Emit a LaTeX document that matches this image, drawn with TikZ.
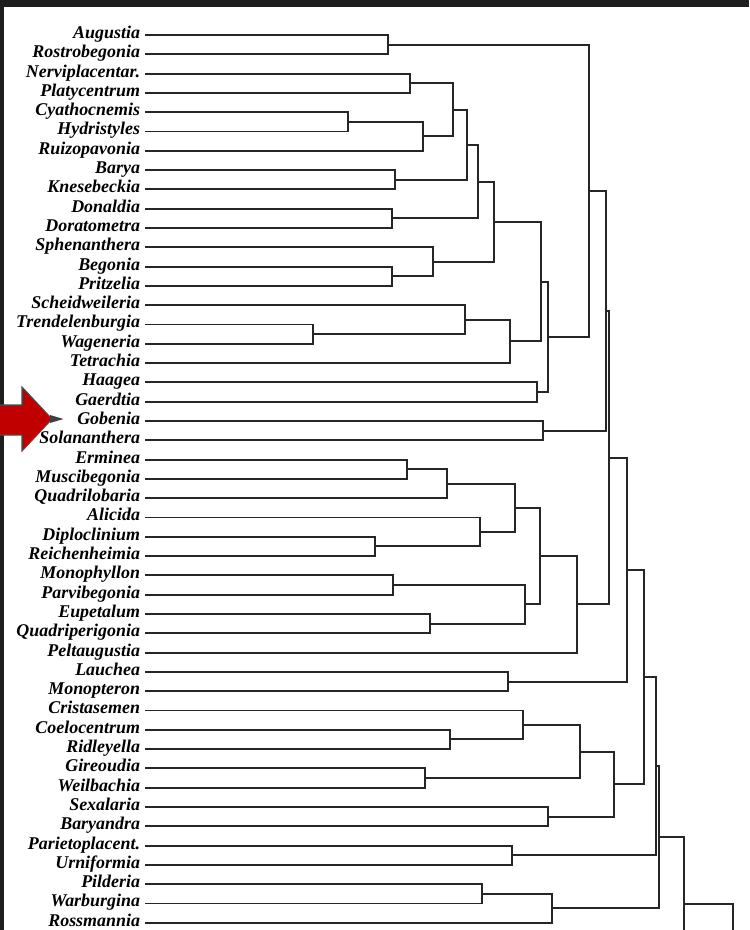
\documentclass[tikz,border=0pt]{standalone}
\usepackage{fontspec}
\setmainfont{Liberation Serif}
\usepackage{xcolor}
\definecolor{scanband}{HTML}{1E1E1E}
\definecolor{markred}{HTML}{C00000}

\begin{document}
\begin{tikzpicture}[
  taxon/.style={anchor=east, inner sep=0pt, outer xsep=0.1cm,
                text height=6.5pt, text depth=2.6pt,
                font=\fontsize{10.2}{12}\selectfont\bfseries\itshape},
  branch/.style={line width=1.1pt, black!85},
  band/.style={fill=scanband}
]
  \useasboundingbox (0,0) rectangle (14.98,-18.6);
  \clip (0,0) rectangle (14.98,-18.6);
  \fill[white] (0,0) rectangle (14.98,-18.6);
  \fill[band] (0,0) rectangle (14.98,-0.14);
  \fill[band] (0,0) rectangle (0.08,-18.6);

  % Taxa
  \node[taxon] (augustia)        at (2.90, -0.700) {Augustia};
  \node[taxon] (rostrobegonia)   at (2.90, -1.086) {Rostrobegonia};
  \node[taxon] (nerviplacentar)  at (2.90, -1.472) {Nerviplacentar.};
  \node[taxon] (platycentrum)    at (2.90, -1.858) {Platycentrum};
  \node[taxon] (cyathocnemis)    at (2.90, -2.244) {Cyathocnemis};
  \node[taxon] (hydristyles)     at (2.90, -2.630) {Hydristyles};
  \node[taxon] (ruizopavonia)    at (2.90, -3.016) {Ruizopavonia};
  \node[taxon] (barya)           at (2.90, -3.402) {Barya};
  \node[taxon] (knesebeckia)     at (2.90, -3.788) {Knesebeckia};
  \node[taxon] (donaldia)        at (2.90, -4.174) {Donaldia};
  \node[taxon] (doratometra)     at (2.90, -4.560) {Doratometra};
  \node[taxon] (sphenanthera)    at (2.90, -4.946) {Sphenanthera};
  \node[taxon] (begonia)         at (2.90, -5.332) {Begonia};
  \node[taxon] (pritzelia)       at (2.90, -5.718) {Pritzelia};
  \node[taxon] (scheidweileria)  at (2.90, -6.104) {Scheidweileria};
  \node[taxon] (trendelenburgia) at (2.90, -6.490) {Trendelenburgia};
  \node[taxon] (wageneria)       at (2.90, -6.876) {Wageneria};
  \node[taxon] (tetrachia)       at (2.90, -7.262) {Tetrachia};
  \node[taxon] (haagea)          at (2.90, -7.648) {Haagea};
  \node[taxon] (gaerdtia)        at (2.90, -8.034) {Gaerdtia};
  \node[taxon] (gobenia)         at (2.90, -8.420) {Gobenia};
  \node[taxon] (solananthera)    at (2.90, -8.806) {Solananthera};
  \node[taxon] (erminea)         at (2.90, -9.192) {Erminea};
  \node[taxon] (muscibegonia)    at (2.90, -9.578) {Muscibegonia};
  \node[taxon] (quadrilobaria)   at (2.90, -9.964) {Quadrilobaria};
  \node[taxon] (alicida)         at (2.90,-10.350) {Alicida};
  \node[taxon] (diploclinium)    at (2.90,-10.736) {Diploclinium};
  \node[taxon] (reichenheimia)   at (2.90,-11.122) {Reichenheimia};
  \node[taxon] (monophyllon)     at (2.90,-11.508) {Monophyllon};
  \node[taxon] (parvibegonia)    at (2.90,-11.894) {Parvibegonia};
  \node[taxon] (eupetalum)       at (2.90,-12.280) {Eupetalum};
  \node[taxon] (quadriperigonia) at (2.90,-12.666) {Quadriperigonia};
  \node[taxon] (peltaugustia)    at (2.90,-13.052) {Peltaugustia};
  \node[taxon] (lauchea)         at (2.90,-13.438) {Lauchea};
  \node[taxon] (monopteron)      at (2.90,-13.824) {Monopteron};
  \node[taxon] (cristasemen)     at (2.90,-14.210) {Cristasemen};
  \node[taxon] (coelocentrum)    at (2.90,-14.596) {Coelocentrum};
  \node[taxon] (ridleyella)      at (2.90,-14.982) {Ridleyella};
  \node[taxon] (gireoudia)       at (2.90,-15.368) {Gireoudia};
  \node[taxon] (weilbachia)      at (2.90,-15.754) {Weilbachia};
  \node[taxon] (sexalaria)       at (2.90,-16.140) {Sexalaria};
  \node[taxon] (baryandra)       at (2.90,-16.526) {Baryandra};
  \node[taxon] (parietoplacent)  at (2.90,-16.912) {Parietoplacent.};
  \node[taxon] (urniformia)      at (2.90,-17.298) {Urniformia};
  \node[taxon] (pilderia)        at (2.90,-17.684) {Pilderia};
  \node[taxon] (warburgina)      at (2.90,-18.070) {Warburgina};
  \node[taxon] (rossmannia)      at (2.90,-18.456) {Rossmannia};

  % Junctions: upper clade
  \coordinate (augRsb) at ( 7.76, -0.893);
  \coordinate (nerPla) at ( 8.20, -1.665);
  \coordinate (cyaHyd) at ( 6.96, -2.437);
  \coordinate (cyaRui) at ( 8.46, -2.727);
  \coordinate (nerRui) at ( 9.06, -2.196);
  \coordinate (barKne) at ( 7.90, -3.595);
  \coordinate (nerKne) at ( 9.34, -2.896);
  \coordinate (donDor) at ( 7.84, -4.367);
  \coordinate (nerDor) at ( 9.56, -3.632);
  \coordinate (begPri) at ( 7.84, -5.525);
  \coordinate (sphPri) at ( 8.66, -5.236);
  \coordinate (nerPri) at ( 9.88, -4.434);
  \coordinate (treWag) at ( 6.26, -6.683);
  \coordinate (schWag) at ( 9.30, -6.394);
  \coordinate (schTet) at (10.20, -6.828);
  \coordinate (nerTet) at (10.82, -5.631);
  \coordinate (haaGae) at (10.74, -7.841);
  \coordinate (nerGae) at (10.96, -6.736);
  \coordinate (augGae) at (11.78, -3.815);
  \coordinate (gobSol) at (10.86, -8.613);
  \coordinate (augSol) at (12.12, -6.214);

  % Junctions: middle clade
  \coordinate (ermMus) at ( 8.14, -9.385);
  \coordinate (ermQua) at ( 8.94, -9.675);
  \coordinate (dipRei) at ( 7.50,-10.929);
  \coordinate (aliRei) at ( 9.60,-10.640);
  \coordinate (ermRei) at (10.30,-10.158);
  \coordinate (monPar) at ( 7.86,-11.701);
  \coordinate (eupQup) at ( 8.60,-12.473);
  \coordinate (monQup) at (10.50,-12.087);
  \coordinate (ermQup) at (10.80,-11.123);
  \coordinate (ermPel) at (11.54,-12.088);
  \coordinate (augPel) at (12.18, -9.151);
  \coordinate (lauMon) at (10.16,-13.631);
  \coordinate (augMon) at (12.54,-11.391);

  % Junctions: lower clade
  \coordinate (coeRid) at ( 9.00,-14.789);
  \coordinate (criRid) at (10.46,-14.500);
  \coordinate (girWei) at ( 8.50,-15.561);
  \coordinate (criWei) at (11.60,-15.031);
  \coordinate (sexBar) at (10.96,-16.333);
  \coordinate (criBar) at (12.28,-15.682);
  \coordinate (augBar) at (12.88,-13.537);
  \coordinate (parUrn) at (10.24,-17.105);
  \coordinate (augUrn) at (13.12,-15.321);
  \coordinate (pilWar) at ( 9.64,-17.877);
  \coordinate (pilRsm) at (11.04,-18.167);
  \coordinate (augRsm) at (13.18,-16.744);
  \coordinate (rootLow) at (13.68,-18.080);
  \coordinate (lowCut)  at (13.68,-19.200);
  \coordinate (rootCut) at (14.66,-19.200);

  % Brackets
  \draw[branch] (augustia) -| (augRsb) |- (rostrobegonia);
  \draw[branch] (nerviplacentar) -| (nerPla) |- (platycentrum);
  \draw[branch] (cyathocnemis) -| (cyaHyd) |- (hydristyles);
  \draw[branch] (cyaHyd) -| (cyaRui) |- (ruizopavonia);
  \draw[branch] (nerPla) -| (nerRui) |- (cyaRui);
  \draw[branch] (barya) -| (barKne) |- (knesebeckia);
  \draw[branch] (nerRui) -| (nerKne) |- (barKne);
  \draw[branch] (donaldia) -| (donDor) |- (doratometra);
  \draw[branch] (nerKne) -| (nerDor) |- (donDor);
  \draw[branch] (begonia) -| (begPri) |- (pritzelia);
  \draw[branch] (sphenanthera) -| (sphPri) |- (begPri);
  \draw[branch] (nerDor) -| (nerPri) |- (sphPri);
  \draw[branch] (trendelenburgia) -| (treWag) |- (wageneria);
  \draw[branch] (scheidweileria) -| (schWag) |- (treWag);
  \draw[branch] (schWag) -| (schTet) |- (tetrachia);
  \draw[branch] (nerPri) -| (nerTet) |- (schTet);
  \draw[branch] (haagea) -| (haaGae) |- (gaerdtia);
  \draw[branch] (nerTet) -| (nerGae) |- (haaGae);
  \draw[branch] (augRsb) -| (augGae) |- (nerGae);
  \draw[branch] (gobenia) -| (gobSol) |- (solananthera);
  \draw[branch] (augGae) -| (augSol) |- (gobSol);

  \draw[branch] (erminea) -| (ermMus) |- (muscibegonia);
  \draw[branch] (ermMus) -| (ermQua) |- (quadrilobaria);
  \draw[branch] (diploclinium) -| (dipRei) |- (reichenheimia);
  \draw[branch] (alicida) -| (aliRei) |- (dipRei);
  \draw[branch] (ermQua) -| (ermRei) |- (aliRei);
  \draw[branch] (monophyllon) -| (monPar) |- (parvibegonia);
  \draw[branch] (eupetalum) -| (eupQup) |- (quadriperigonia);
  \draw[branch] (monPar) -| (monQup) |- (eupQup);
  \draw[branch] (ermRei) -| (ermQup) |- (monQup);
  \draw[branch] (ermQup) -| (ermPel) |- (peltaugustia);
  \draw[branch] (augSol) -| (augPel) |- (ermPel);
  \draw[branch] (lauchea) -| (lauMon) |- (monopteron);
  \draw[branch] (augPel) -| (augMon) |- (lauMon);

  \draw[branch] (coelocentrum) -| (coeRid) |- (ridleyella);
  \draw[branch] (cristasemen) -| (criRid) |- (coeRid);
  \draw[branch] (gireoudia) -| (girWei) |- (weilbachia);
  \draw[branch] (criRid) -| (criWei) |- (girWei);
  \draw[branch] (sexalaria) -| (sexBar) |- (baryandra);
  \draw[branch] (criWei) -| (criBar) |- (sexBar);
  \draw[branch] (augMon) -| (augBar) |- (criBar);
  \draw[branch] (parietoplacent) -| (parUrn) |- (urniformia);
  \draw[branch] (augBar) -| (augUrn) |- (parUrn);
  \draw[branch] (pilderia) -| (pilWar) |- (warburgina);
  \draw[branch] (pilWar) -| (pilRsm) |- (rossmannia);
  \draw[branch] (augUrn) -| (augRsm) |- (pilRsm);
  \draw[branch] (augRsm) -| (rootLow) -- (lowCut);
  \draw[branch] (rootLow) -| (rootCut);

  % Pointer
  \fill[markred, draw=black!70, line width=0.6pt]
    (-0.1,-8.10) -- (0.44,-8.10) -- (0.44,-7.74) -- (1.04,-8.38)
    -- (0.44,-9.02) -- (0.44,-8.70) -- (-0.1,-8.70) -- cycle;
  \fill[black!75] (1.00,-8.30) -- (1.27,-8.38) -- (1.00,-8.46) -- cycle;
\end{tikzpicture}
\end{document}
